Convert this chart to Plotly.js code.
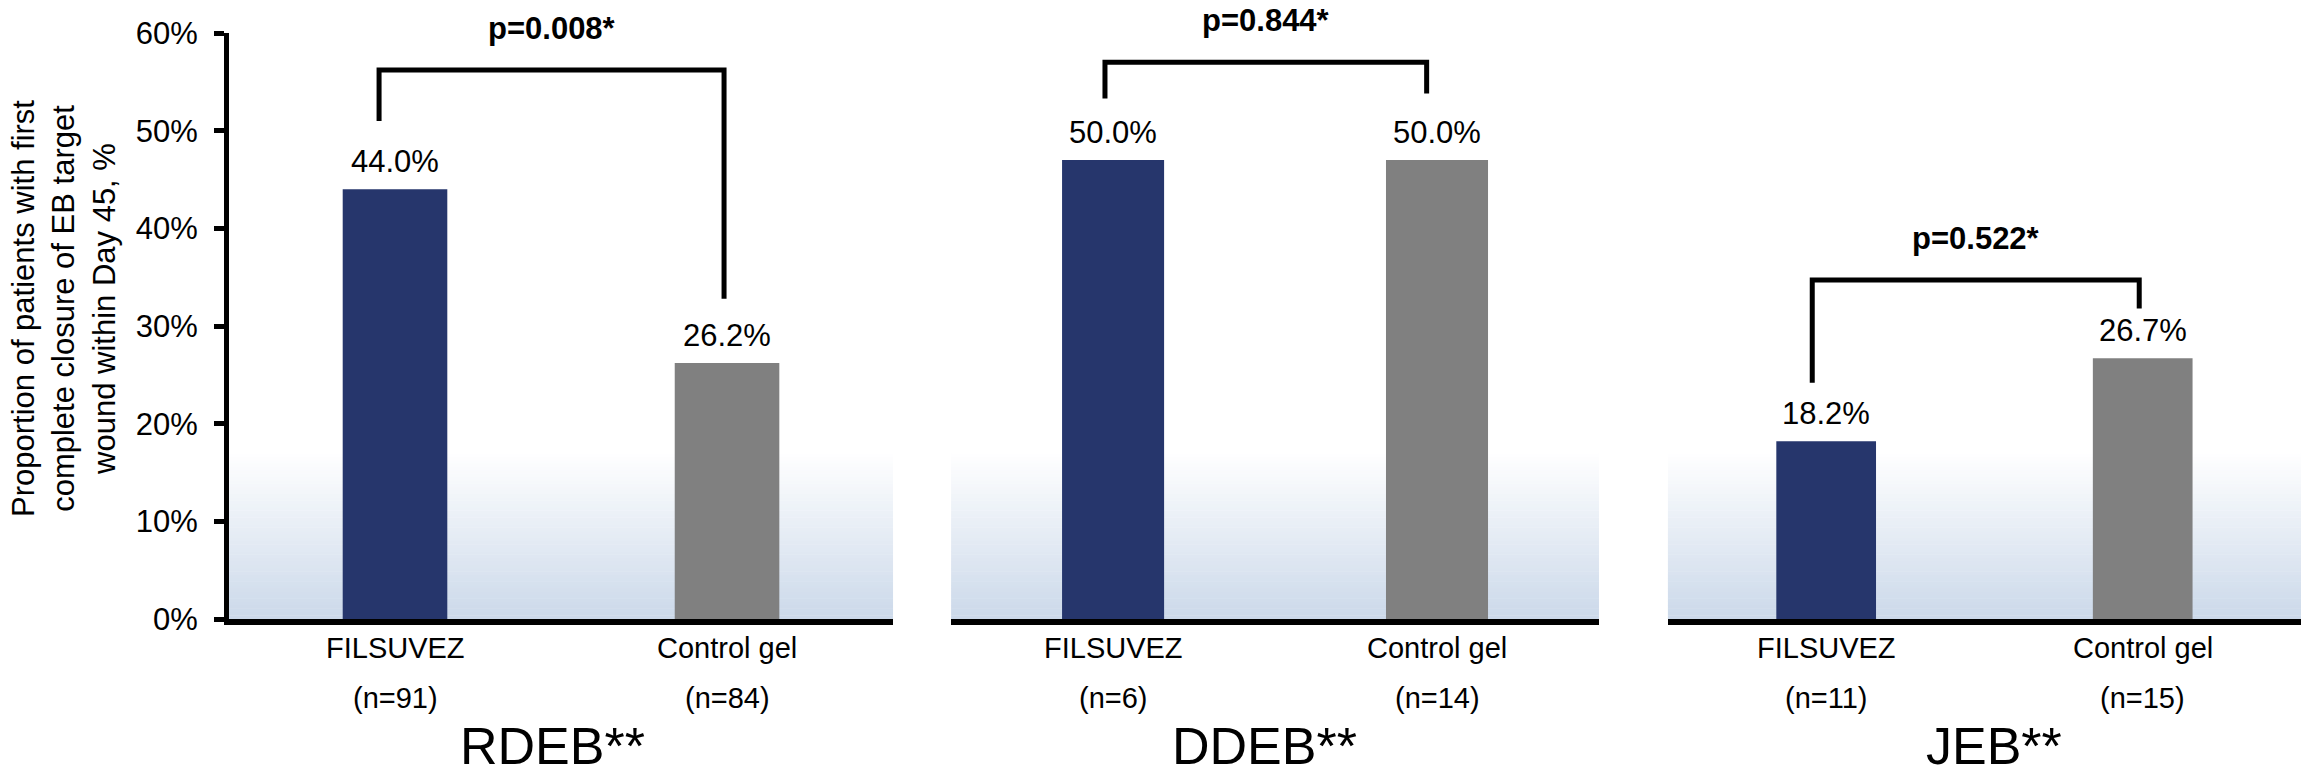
<!DOCTYPE html>
<html>
<head>
<meta charset="utf-8">
<script src="https://cdn.plot.ly/plotly-3.0.1.min.js"></script>
<style>html,body{margin:0;padding:0;background:#fff;}#chart{width:2313px;height:774px;}</style>
</head>
<body>
<div id="chart"></div>
<script>
// ---- data ----
const categories = ['FILSUVEZ', 'Control gel'];
const groupNames = ['RDEB**', 'DDEB**', 'JEB**'];
const rdebValues = [44.0, 26.2];
const ddebValues = [47.0, 47.0];
const jebValues = [18.2, 26.7];
const rdebLabels = ['44.0%', '26.2%'];
const ddebLabels = ['50.0%', '50.0%'];
const jebLabels = ['18.2%', '26.7%'];
const rdebN = ['(n=91)', '(n=84)'];
const ddebN = ['(n=6)', '(n=14)'];
const jebN = ['(n=11)', '(n=15)'];
const pValues = ['p=0.008*', 'p=0.844*', 'p=0.522*'];
const yTicks = [0, 10, 20, 30, 40, 50, 60];
const yTickText = ['0%', '10%', '20%', '30%', '40%', '50%', '60%'];

// ---- styling / layout helpers ----
const W = 2313, H = 774;
const BLUE = '#26366c', GRAY = '#808080';
const FONT = 'Liberation Sans, Arial, Helvetica, sans-serif';
const axesIds = ['x', 'x2', 'x3'];
const domains = [[0.0990, 0.3861], [0.4112, 0.6913], [0.7211, 0.9948]];
const valuesAll = [rdebValues, ddebValues, jebValues];
const labelsAll = [rdebLabels, ddebLabels, jebLabels];
const nAll = [rdebN, ddebN, jebN];
// bracket geometry: [left x, right x, left bottom y, top y, right bottom y]
const brackets = [
  [-0.048, 0.991, 51.0, 56.2, 32.8],
  [-0.025, 0.968, 53.3, 57.0, 53.8],
  [-0.044, 0.989, 24.2, 34.7, 31.8]
];
const titleShift = [-9, -11, 10];

const traces = axesIds.map((ax, i) => ({
  type: 'bar',
  x: categories,
  y: valuesAll[i],
  xaxis: ax,
  yaxis: 'y',
  marker: {color: [BLUE, GRAY], line: {width: 0}},
  hoverinfo: 'skip'
}));

const shapes = [];
const annotations = [];

// gradient background (light blue at baseline fading to white)
const gradTop = 17.3, NB = 50;
const c0 = [204, 217, 234];
axesIds.forEach(ax => {
  for (let k = 0; k < NB; k++) {
    const t = k / (NB - 1);
    const r = Math.round(c0[0] + (255 - c0[0]) * t);
    const g = Math.round(c0[1] + (255 - c0[1]) * t);
    const b = Math.round(c0[2] + (255 - c0[2]) * t);
    shapes.push({
      type: 'rect', layer: 'below', xref: ax + ' domain', yref: 'y',
      x0: 0, x1: 1, y0: gradTop * k / NB, y1: gradTop * (k + 1) / NB + 0.05,
      fillcolor: `rgb(${r},${g},${b})`, line: {width: 0}
    });
  }
});

axesIds.forEach((ax, i) => {
  const [xl, xr, yl, yt, yr] = brackets[i];
  shapes.push({
    type: 'path', xref: ax, yref: 'y', layer: 'above',
    path: `M ${xl},${yl} L ${xl},${yt} L ${xr},${yt} L ${xr},${yr}`,
    line: {color: 'black', width: 5}
  });
  annotations.push({
    xref: ax, yref: 'y', x: (xl + xr) / 2, y: yt, yshift: 42,
    xanchor: 'center', yanchor: 'middle', showarrow: false,
    text: '<b>' + pValues[i] + '</b>', font: {family: FONT, size: 31, color: 'black'}
  });
  categories.forEach((c, j) => {
    annotations.push({
      xref: ax, yref: 'y', x: j, y: valuesAll[i][j], yshift: 8,
      xanchor: 'center', yanchor: 'bottom', showarrow: false,
      text: labelsAll[i][j], font: {family: FONT, size: 31, color: 'black'}
    });
    annotations.push({
      xref: ax, yref: 'paper', x: j, y: (H - 648) / H,
      xanchor: 'center', yanchor: 'middle', showarrow: false,
      text: c, font: {family: FONT, size: 29, color: 'black'}
    });
    annotations.push({
      xref: ax, yref: 'paper', x: j, y: (H - 698) / H,
      xanchor: 'center', yanchor: 'middle', showarrow: false,
      text: nAll[i][j], font: {family: FONT, size: 29, color: 'black'}
    });
  });
  annotations.push({
    xref: ax, yref: 'paper', x: 0.5, xshift: titleShift[i], y: (H - 746) / H,
    xanchor: 'center', yanchor: 'middle', showarrow: false,
    text: groupNames[i], font: {family: FONT, size: 52, color: 'black'}
  });
});

annotations.push({
  xref: 'paper', yref: 'paper', x: 64 / W, y: (H - 309) / H,
  xanchor: 'center', yanchor: 'middle', showarrow: false, textangle: -90,
  text: 'Proportion of patients with first<br>complete closure of EB target<br>wound within Day 45, %',
  font: {family: FONT, size: 31, color: 'black'}
});

const xBase = {
  type: 'category', anchor: 'y', range: [-0.5, 1.5], showticklabels: false, ticks: '',
  showline: true, linewidth: 6, linecolor: 'black', showgrid: false, zeroline: false, fixedrange: true
};

const layout = {
  width: W, height: H,
  margin: {l: 0, r: 0, t: 0, b: 0},
  paper_bgcolor: 'white', plot_bgcolor: 'rgba(0,0,0,0)',
  showlegend: false,
  bargap: 0.685,
  font: {family: FONT, color: 'black'},
  xaxis: Object.assign({}, xBase, {domain: domains[0]}),
  xaxis2: Object.assign({}, xBase, {domain: domains[1]}),
  xaxis3: Object.assign({}, xBase, {domain: domains[2]}),
  yaxis: {
    domain: [(H - 619) / H, (H - 33) / H], range: [0, 60], anchor: 'x',
    tickvals: yTicks, ticktext: yTickText, ticks: 'outside', ticklen: 10, tickwidth: 5, tickcolor: 'black',
    showline: true, linewidth: 5, linecolor: 'black', showgrid: false, zeroline: false,
    tickfont: {family: FONT, size: 31, color: 'black'}, ticklabelstandoff: 10, fixedrange: true
  },
  shapes: shapes,
  annotations: annotations
};

Plotly.newPlot('chart', traces, layout, {displayModeBar: false, staticPlot: true});
</script>
</body>
</html>
